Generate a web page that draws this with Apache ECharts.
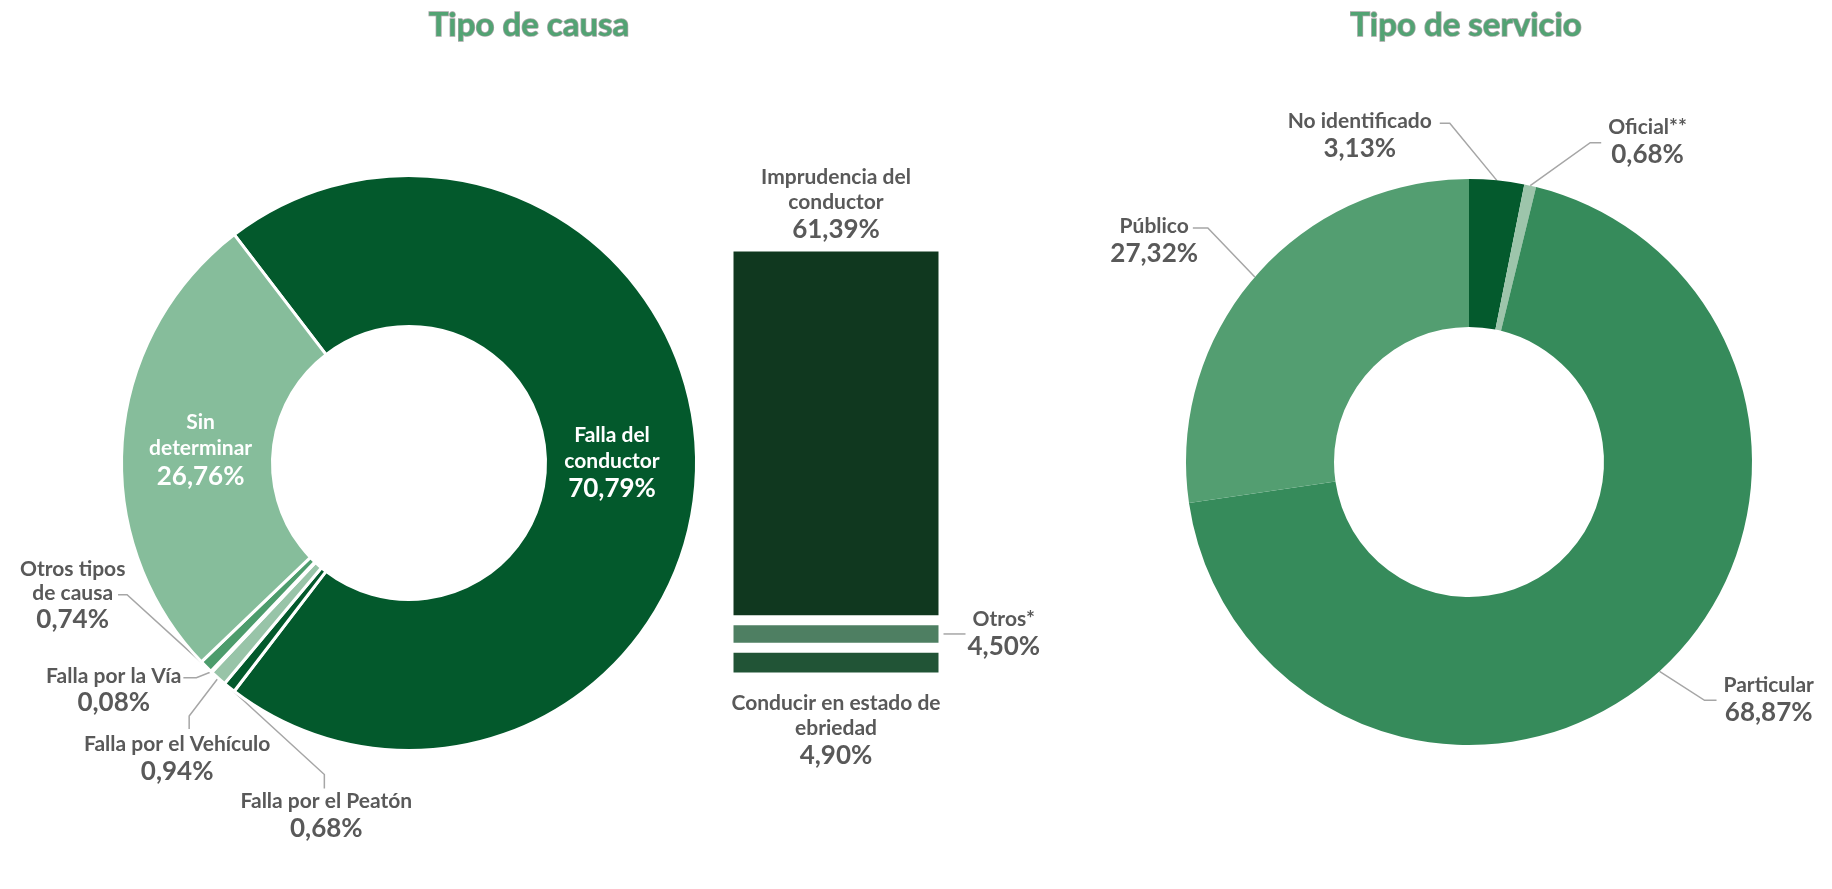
<!DOCTYPE html>
<html>
<head>
<meta charset="utf-8">
<script src="https://cdn.jsdelivr.net/npm/echarts@6/dist/echarts.min.js"></script>
<style>
  html, body { margin:0; padding:0; background:#fff; }
  #chart { width:1832px; height:889px; }
</style>
</head>
<body>
<div id="chart"></div>
<script>
// Tipo de causa (dona)
const causaNames = ['Falla del conductor', 'Falla por el Peatón', 'Falla por el Vehículo', 'Falla por la Vía', 'Otros tipos de causa', 'Sin determinar'];
const causaText = ['Falla del\nconductor', 'Falla por el Peatón', 'Falla por el Vehículo', 'Falla por la Vía', 'Otros tipos\nde causa', 'Sin\ndeterminar'];
const causaValues = [70.79, 0.68, 0.94, 0.08, 0.74, 26.76];

// desglose de "Falla del conductor" (barra apilada, de abajo hacia arriba)
const conductorNames = ['Conducir en estado de ebriedad', 'Otros*', 'Imprudencia del conductor'];
const conductorText = ['Conducir en estado de\nebriedad', 'Otros*', 'Imprudencia del\nconductor'];
const conductorValues = [4.90, 4.50, 61.39];

// Tipo de servicio (dona)
const servicioNames = ['No identificado', 'Oficial**', 'Particular', 'Público'];
const servicioValues = [3.13, 0.68, 68.87, 27.32];

const GRAY = '#595959';
const LINE = '#A6A6A6';
const FONT = 'Lato, "Noto Sans", sans-serif';
const NAME_SIZE = 21;
const NAME_LH = 24;
const BAR_W = 215;
const LEFT_C = [409, 463];
const LEFT_R = 286;

const causaColors = ['#03592C', '#03592C', '#98C4A8', '#7FB592', '#4C9C6C', '#86BD9B'];
const conductorColors = ['#215436', '#4E7F62', '#10381F'];
const servicioColors = ['#045A2D', '#9DC5AB', '#368B5B', '#539E71'];

const measureCtx = document.createElement('canvas').getContext('2d');
function textWidth(s) {
    measureCtx.font = 'bold ' + NAME_SIZE + 'px ' + FONT;
    return measureCtx.measureText(s).width;
}

function pct(v) {
    return v.toFixed(2).replace('.', ',') + '%';
}

function rich(color, nSize, nLh, pSize, pLh) {
    return {
        n: { fontFamily: FONT, fontSize: nSize, lineHeight: nLh, fontWeight: 'bold', color, align: 'center' },
        p: { fontFamily: FONT, fontSize: pSize, lineHeight: pLh, fontWeight: 'bold', color, align: 'center' }
    };
}

function labelText(name, value) {
    return name.split('\n').map(s => '{n|' + s + '}').join('\n') + '\n{p|' + pct(value) + '}';
}

// guías de etiqueta: codo respecto al borde, tramo final, lado
const causaGuide = {
    1: { elbow: [95, 87], end: [0, 14], side: 'below', gap: 3, dx: 2 },
    2: { elbow: [-29, 38], end: [0, 13], side: 'below', gap: 5, dx: -12 },
    3: { elbow: [-15, 6], end: [-13, 0], side: 'left', line: 0, gap: 2 },
    4: { elbow: [-79, -72], end: [-9, 0], side: 'left', line: 1, gap: 5 }
};
const causaInsideShift = { 0: [-6, 0], 5: [3, 2] };
const servicioGuide = [
    { elbow: [-47, -57], end: [-10, 0], side: 'left', line: 0, gap: 8 },
    { elbow: [60, -43], end: [11, 0], side: 'right', gap: 7 },
    { elbow: [45, 29], end: [12, 0], side: 'right', gap: 7 },
    { elbow: [-47, -49], end: [-15, 0], side: 'left', line: 0, gap: 4 }
];

function placeLabel(p, g, lines) {
    let e = p.labelLinePoints[0];
    let b = [e[0] + g.elbow[0], e[1] + g.elbow[1]];
    let t = [b[0] + g.end[0], b[1] + g.end[1]];
    let w = p.labelRect.width, h = p.labelRect.height;
    let x, y;
    if (g.side === 'below') {
        x = t[0] + (g.dx || 0);
        y = t[1] + g.gap + h / 2;
    } else {
        // la línea apunta al renglón indicado, que queda centrado en el bloque
        let lw = g.line == null ? w : textWidth(lines[g.line]);
        x = g.side === 'left' ? t[0] - g.gap - lw / 2 : t[0] + g.gap + w / 2;
        y = g.line == null ? t[1] : t[1] + h / 2 - (g.line * NAME_LH + NAME_LH / 2);
    }
    return { x, y, align: 'center', verticalAlign: 'middle', labelLinePoints: [e, b, t] };
}

const causaData = causaNames.map((name, i) => {
    let inside = causaInsideShift[i] !== undefined;
    return {
        name,
        value: causaValues[i],
        itemStyle: { color: causaColors[i] },
        label: inside ? { position: 'inside', rich: rich('#fff', 21, 26, 26, 30) } : { position: 'outside' },
        labelLine: { show: !inside }
    };
});

const servicioData = servicioNames.map((name, i) => ({
    name,
    value: servicioValues[i],
    itemStyle: { color: servicioColors[i] }
}));

const barSeries = conductorNames.map((name, i) => {
    let pos = ['bottom', 'right', 'top'][i];
    let dist = [13, 24, 2][i];
    return {
        name,
        type: 'bar',
        stack: 'conductor',
        barWidth: BAR_W,
        data: [conductorValues[i]],
        itemStyle: { color: conductorColors[i], borderColor: '#fff', borderWidth: 5 },
        label: {
            show: true,
            position: pos,
            distance: dist,
            formatter: () => labelText(conductorText[i], conductorValues[i]),
            rich: rich(GRAY, NAME_SIZE, 25, 26, 30)
        }
    };
});

const total = conductorValues.reduce((a, b) => a + b, 0);

const myChart = echarts.init(document.getElementById('chart'));
const option = {
    animation: false,
    backgroundColor: '#fff',
    grid: { left: 728.5, width: BAR_W, top: 246.5, bottom: 211.5 },
    xAxis: { type: 'category', data: ['Falla del conductor'], show: false },
    yAxis: { type: 'value', min: 0, max: total, show: false },
    series: [
        {
            name: 'Tipo de causa',
            type: 'pie',
            center: LEFT_C,
            radius: [136.5, 287.5],
            // la porción principal queda centrada a la derecha, hacia la barra
            startAngle: 360 * causaValues[0] / 2 / 100,
            clockwise: true,
            avoidLabelOverlap: false,
            itemStyle: { borderColor: '#fff', borderWidth: 3 },
            label: {
                show: true,
                formatter: (p) => labelText(causaText[p.dataIndex], p.value),
                rich: rich(GRAY, NAME_SIZE, NAME_LH, 26, 30)
            },
            labelLine: { show: true, lineStyle: { color: LINE, width: 1.5 } },
            labelLayout: (p) => {
                let g = causaGuide[p.dataIndex];
                if (g) return placeLabel(p, g, causaText[p.dataIndex].split('\n'));
                let s = causaInsideShift[p.dataIndex];
                return s ? { dx: s[0], dy: s[1] } : {};
            },
            data: causaData
        },
        ...barSeries,
        {
            name: 'Tipo de servicio',
            type: 'pie',
            center: [1469, 462],
            radius: [135, 283],
            startAngle: 90,
            clockwise: true,
            avoidLabelOverlap: false,
            label: {
                show: true,
                position: 'outside',
                formatter: (p) => labelText(p.name, p.value),
                rich: rich(GRAY, NAME_SIZE, NAME_LH, 26, 30)
            },
            labelLine: { show: true, length: 30, length2: 10, lineStyle: { color: LINE, width: 1.5 } },
            labelLayout: (p) => placeLabel(p, servicioGuide[p.dataIndex], [servicioNames[p.dataIndex]]),
            data: servicioData
        }
    ],
    graphic: [
        { type: 'text', x: 529, y: 25, style: { text: 'Tipo de causa', font: 'bold 33px ' + FONT, fill: '#52A373', align: 'center', verticalAlign: 'middle' } },
        { type: 'text', x: 1466, y: 25, style: { text: 'Tipo de servicio', font: 'bold 33px ' + FONT, fill: '#52A373', align: 'center', verticalAlign: 'middle' } },
        { type: 'line', shape: { x1: 1046, y1: 0, x2: 1046, y2: 889 }, style: { stroke: LINE, lineWidth: 2 } }
    ]
};
myChart.setOption(option);

// líneas que unen la dona con la barra
let barTop = myChart.convertToPixel({ seriesIndex: 3 }, [0, total]);
let barBottom = myChart.convertToPixel({ seriesIndex: 1 }, [0, 0]);
let otrosMid = myChart.convertToPixel({ seriesIndex: 2 }, [0, conductorValues[0] + conductorValues[1] / 2]);
let barLeft = barTop[0] - BAR_W / 2 - 1.5;
let barRight = barTop[0] + BAR_W / 2 - 2;
let ang = 70 * Math.PI / 180;
let rr = LEFT_R + 3;
myChart.setOption({
    graphic: [
        { type: 'line', shape: { x1: LEFT_C[0] + rr * Math.cos(ang), y1: LEFT_C[1] - rr * Math.sin(ang), x2: barLeft, y2: barTop[1] }, style: { stroke: LINE, lineWidth: 1.5 } },
        { type: 'line', shape: { x1: LEFT_C[0] + rr * Math.cos(ang), y1: LEFT_C[1] + rr * Math.sin(ang), x2: barLeft, y2: barBottom[1] }, style: { stroke: LINE, lineWidth: 1.5 } },
        { type: 'line', shape: { x1: barRight, y1: otrosMid[1], x2: barRight + 24, y2: otrosMid[1] }, style: { stroke: LINE, lineWidth: 1.5 } }
    ]
});
</script>
</body>
</html>
